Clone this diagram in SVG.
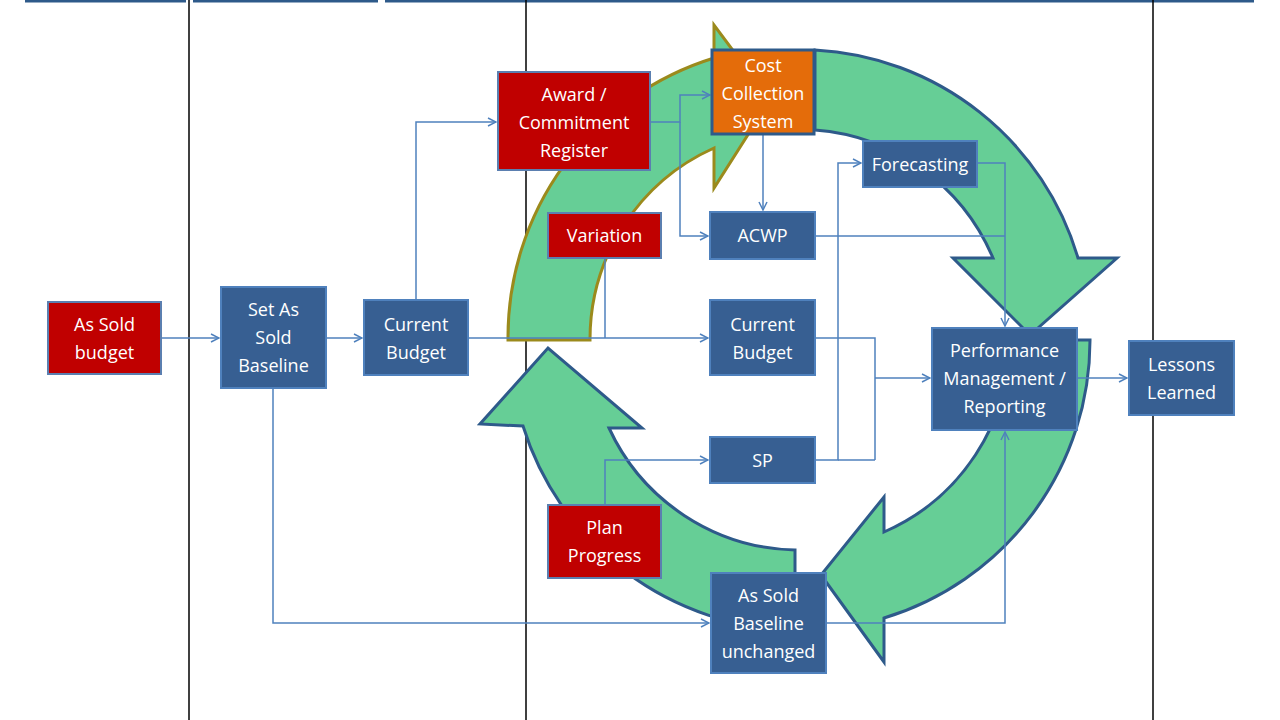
<svg xmlns="http://www.w3.org/2000/svg" width="1280" height="720" viewBox="0 0 1280 720">
<defs>
<marker id="ah" viewBox="0 0 10 10" refX="9" refY="5" markerWidth="10" markerHeight="10" markerUnits="userSpaceOnUse" orient="auto"><path d="M1 1 L9 5 L1 9" fill="none" stroke="#4F81BD" stroke-width="1.5"/></marker>
<style>
.g{fill:#66CE96;stroke:#2E5A8A;stroke-width:3;stroke-linejoin:miter}
.b rect{fill:#375F92;stroke:#4F81BD;stroke-width:2}
.r rect{fill:#C00000;stroke:#5B7FB0;stroke-width:2}
.o rect{fill:#E46C0A;stroke:#2E5A8A;stroke-width:3}
text{font-family:"Open Sans","Noto Sans",sans-serif;font-size:18px;fill:#fff;text-anchor:middle}
#connectors path{fill:none;stroke:#4F81BD;stroke-width:1.5}
</style>
</defs>
<rect width="1280" height="720" fill="#fff"/>
<g stroke="#2E5A8A" stroke-width="3"><line x1="25" y1="1" x2="186" y2="1"/><line x1="193" y1="1" x2="378" y2="1"/><line x1="385" y1="1" x2="1254" y2="1"/></g>
<g stroke="#000" stroke-width="1.5"><line x1="189" y1="0" x2="189" y2="720"/><line x1="526" y1="0" x2="526" y2="720"/><line x1="1153" y1="0" x2="1153" y2="720"/></g>
<g id="arrows">
<path class="g" style="stroke:#9B8A1C" d="M508 340 A292 292 0 0 1 714 58 L714 25 L770 100 L714 188 L714 148 A210 210 0 0 0 590 340 Z"/>
<path class="g" d="M815 50 A290 290 0 0 1 1078 258 L1117 258 L1030 335 L953 258 L993 258 A210 210 0 0 0 815 130 Z"/>
<path class="g" d="M1090 340 A290 290 0 0 1 884 618 L884 662 L821 575 L884 497 L884 532 A210 210 0 0 0 1010 340 Z"/>
<path class="g" d="M795 630 A290 290 0 0 1 523 426 L480 424 L548 348 L642 428 L609 428 A210 210 0 0 0 795 550 Z"/>
</g>
<g id="connectors" marker-end="url(#ah)">
<path d="M161 338 H219"/>
<path d="M326 338 H362"/>
<path d="M416 300 V122 H496"/>
<path d="M468 338 H708"/>
<path d="M605 258 V338" marker-end="none"/>
<path d="M650 122 H680 V95 H710"/>
<path d="M680 122 V236 H708"/>
<path d="M763 134 V210"/>
<path d="M815 236 H1005" marker-end="none"/>
<path d="M977 163 H1005 V326"/>
<path d="M815 338 H875 V460" marker-end="none"/>
<path d="M815 460 H838 V163 H861"/>
<path d="M838 460 H875" marker-end="none"/>
<path d="M875 378 H930"/>
<path d="M605 505 V460 H708"/>
<path d="M273 388 V623 H709"/>
<path d="M826 623 H1005 V432"/>
<path d="M1077 378 H1127"/>
</g>
<g id="n1" class="r"><rect x="48" y="302" width="113" height="72"/><text x="104.500" y="331">As Sold</text><text x="104.500" y="359">budget</text></g>
<g id="n2" class="b"><rect x="221" y="287" width="105" height="101"/><text x="273.500" y="316">Set As</text><text x="273.500" y="344">Sold</text><text x="273.500" y="372">Baseline</text></g>
<g id="n3" class="b"><rect x="364" y="300" width="104" height="75"/><text x="416" y="331">Current</text><text x="416" y="359">Budget</text></g>
<g id="n4" class="r"><rect x="498" y="72" width="152" height="98"/><text x="574" y="101">Award /</text><text x="574" y="129">Commitment</text><text x="574" y="157">Register</text></g>
<g id="n5" class="o"><rect x="712" y="50" width="102" height="84"/><text x="763" y="72">Cost</text><text x="763" y="100">Collection</text><text x="763" y="128">System</text></g>
<g id="n6" class="r"><rect x="548" y="213" width="113" height="45"/><text x="604.500" y="242">Variation</text></g>
<g id="n7" class="b"><rect x="710" y="212" width="105" height="47"/><text x="762.500" y="242">ACWP</text></g>
<g id="n8" class="b"><rect x="863" y="141" width="114" height="46"/><text x="920" y="171">Forecasting</text></g>
<g id="n9" class="b"><rect x="710" y="300" width="105" height="75"/><text x="762.500" y="331">Current</text><text x="762.500" y="359">Budget</text></g>
<g id="n10" class="b"><rect x="932" y="328" width="145" height="102"/><text x="1004.500" y="357">Performance</text><text x="1004.500" y="385">Management /</text><text x="1004.500" y="413">Reporting</text></g>
<g id="n11" class="b"><rect x="1129" y="341" width="105" height="74"/><text x="1181.500" y="371">Lessons</text><text x="1181.500" y="399">Learned</text></g>
<g id="n12" class="b"><rect x="710" y="437" width="105" height="46"/><text x="762.500" y="467">SP</text></g>
<g id="n13" class="r"><rect x="548" y="505" width="113" height="73"/><text x="604.500" y="534">Plan</text><text x="604.500" y="562">Progress</text></g>
<g id="n14" class="b"><rect x="711" y="573" width="115" height="100"/><text x="768.500" y="602">As Sold</text><text x="768.500" y="630">Baseline</text><text x="768.500" y="658">unchanged</text></g>
</svg>
